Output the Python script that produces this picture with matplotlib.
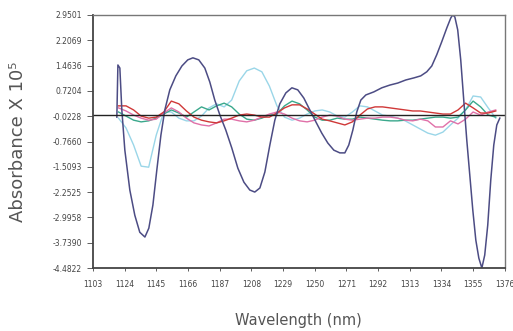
import matplotlib
matplotlib.use("Agg")
import matplotlib.pyplot as plt
import numpy as np

# ---------------- data ----------------
main_nm = [1118.9, 1119.6, 1120.9, 1122.2, 1124.2, 1127.5, 1130.8, 1134.1, 1137.5, 1140.1,
           1142.8, 1145.4, 1148.1, 1150.7, 1154.0, 1158.0, 1162.0, 1165.9, 1169.3, 1173.2,
           1177.2, 1180.5, 1183.8, 1187.2, 1191.1, 1195.1, 1199.1, 1203.1, 1207.0, 1210.3,
           1213.7, 1217.0, 1220.3, 1223.6, 1226.9, 1230.9, 1234.9, 1238.8, 1242.8, 1246.8,
           1250.8, 1254.7, 1258.7, 1262.7, 1266.7, 1270.0, 1272.6, 1275.3, 1277.9, 1280.6,
           1283.9, 1289.2, 1294.5, 1299.8, 1305.1, 1310.4, 1315.7, 1320.3, 1324.3, 1327.6,
           1330.9, 1334.2, 1337.6, 1340.2, 1341.5, 1342.9, 1344.8, 1346.8, 1348.8, 1350.8,
           1352.8, 1354.8, 1356.8, 1358.8, 1360.8, 1362.7, 1364.7, 1366.7, 1368.7, 1370.7,
           1372.7]
main_abs = [-0.05, 1.48, 1.39, 0.16, -1.02, -2.19, -2.93, -3.43, -3.57, -3.31,
            -2.63, -1.60, -0.58, 0.16, 0.75, 1.16, 1.45, 1.63, 1.69, 1.63,
            1.39, 0.98, 0.45, 0.01, -0.43, -0.96, -1.55, -1.96, -2.19, -2.25,
            -2.13, -1.66, -0.87, -0.14, 0.34, 0.66, 0.81, 0.75, 0.51, 0.16,
            -0.19, -0.52, -0.81, -1.02, -1.10, -1.10, -0.87, -0.43, 0.10, 0.45,
            0.60, 0.69, 0.81, 0.89, 0.95, 1.04, 1.10, 1.16, 1.28, 1.45,
            1.78, 2.16, 2.57, 2.86, 2.95, 2.89, 2.51, 1.63, 0.45, -0.72,
            -1.75, -2.78, -3.66, -4.19, -4.48, -4.10, -3.22, -1.90, -0.87, -0.28,
            -0.08]

grid_nm = [1120, 1125, 1130, 1135, 1140, 1145, 1150, 1155, 1160, 1165,
           1170, 1175, 1180, 1185, 1190, 1195, 1200, 1205, 1210, 1215,
           1220, 1225, 1230, 1235, 1240, 1245, 1250, 1255, 1260, 1265,
           1270, 1275, 1280, 1285, 1290, 1295, 1300, 1305, 1310, 1315,
           1320, 1325, 1330, 1335, 1340, 1345, 1350, 1355, 1360, 1365,
           1370]

cyan_abs = [-0.08, -0.37, -0.87, -1.49, -1.52, -0.58, 0.10, 0.10, -0.08, -0.16,
            -0.16, -0.02, 0.22, 0.34, 0.25, 0.45, 1.01, 1.31, 1.39, 1.28,
            0.86, 0.28, -0.05, -0.14, -0.08, 0.04, 0.13, 0.16, 0.10, -0.02,
            -0.05, 0.10, 0.28, 0.25, 0.13, 0.01, -0.02, -0.08, -0.16, -0.28,
            -0.40, -0.52, -0.58, -0.49, -0.28, -0.08, 0.16, 0.57, 0.54, 0.22,
            -0.08]

teal_abs = [0.10, -0.02, -0.14, -0.19, -0.16, -0.08, 0.04, 0.16, 0.07, -0.05,
            0.10, 0.25, 0.16, 0.28, 0.36, 0.25, 0.04, -0.11, -0.14, -0.08,
            0.01, 0.04, 0.28, 0.42, 0.34, 0.16, -0.05, -0.14, -0.14, -0.08,
            -0.11, -0.11, -0.05, -0.08, -0.11, -0.14, -0.16, -0.16, -0.14, -0.14,
            -0.11, -0.08, -0.05, -0.05, -0.08, -0.05, 0.16, 0.42, 0.25, 0.01,
            -0.05]

red_abs = [0.28, 0.28, 0.16, -0.02, -0.08, -0.05, 0.10, 0.42, 0.34, 0.13,
           -0.05, -0.14, -0.19, -0.22, -0.16, -0.08, 0.01, 0.04, 0.01, -0.05,
           -0.05, 0.07, 0.22, 0.31, 0.31, 0.19, 0.04, -0.11, -0.16, -0.22,
           -0.28, -0.19, 0.01, 0.19, 0.25, 0.25, 0.22, 0.19, 0.16, 0.13,
           0.13, 0.10, 0.07, 0.04, 0.04, 0.16, 0.36, 0.22, 0.07, 0.07,
           0.13]

pink_abs = [0.22, 0.13, 0.01, -0.08, -0.14, -0.11, 0.07, 0.22, 0.10, -0.08,
            -0.22, -0.28, -0.31, -0.22, -0.11, -0.11, -0.16, -0.19, -0.14, -0.05,
            0.04, 0.10, 0.04, -0.08, -0.16, -0.19, -0.14, -0.05, 0.01, -0.02,
            -0.11, -0.14, -0.11, -0.08, -0.08, -0.05, -0.05, -0.08, -0.14, -0.16,
            -0.11, -0.16, -0.34, -0.34, -0.16, -0.25, -0.11, 0.10, 0.01, 0.10,
            0.16]

x_ticks = [1103, 1124, 1145, 1166, 1187, 1208, 1229, 1250, 1271, 1292, 1313, 1334, 1355, 1376]
x_tick_labels = ["1103", "1124", "1145", "1166", "1187", "1208", "1229",
                 "1250", "1271", "1292", "1313", "1334", "1355", "1376"]
y_ticks = [2.9501, 2.2069, 1.4636, 0.7204, -0.0228, -0.7660, -1.5093,
           -2.2525, -2.9958, -3.7390, -4.4822]
y_tick_labels = ["2.9501", "2.2069", "1.4636", "0.7204", "-0.0228", "-0.7660",
                 "-1.5093", "-2.2525", "-2.9958", "-3.7390", "-4.4822"]

# ---------------- figure ----------------
fig = plt.figure(figsize=(5.13, 3.31), dpi=100)
ax = fig.add_axes([0.181, 0.190, 0.803, 0.765])

ax.plot(grid_nm, cyan_abs, color="#9ad6e8", lw=1.0)
ax.plot(grid_nm, teal_abs, color="#3aa88c", lw=1.0)
ax.plot(grid_nm, pink_abs, color="#e070a8", lw=1.0)
ax.plot(grid_nm, red_abs, color="#d03838", lw=1.0)
ax.plot(main_nm, main_abs, color="#4c4c84", lw=1.1)
ax.axhline(0, color="#222222", lw=1.0)

ax.set_xlim(1103, 1376)
ax.set_ylim(-4.4822, 2.9501)
ax.set_xticks(x_ticks)
ax.set_xticklabels(x_tick_labels)
ax.set_yticks(y_ticks)
ax.set_yticklabels(y_tick_labels)
ax.tick_params(axis="both", labelsize=5.5, colors="#444444", width=0.6)
ax.tick_params(axis="y", length=4, pad=4)
ax.tick_params(axis="x", length=2.5, pad=6)

for side in ["left", "bottom"]:
    ax.spines[side].set_color("#444444")
    ax.spines[side].set_linewidth(1.3)
for side in ["top", "right"]:
    ax.spines[side].set_color("#777777")
    ax.spines[side].set_linewidth(1.0)

ax.set_ylabel("Absorbance X 10⁵", fontsize=13, color="#555555", labelpad=18)
ax.set_xlabel("Wavelength (nm)", fontsize=10.5, color="#555555", labelpad=17)

fig.savefig("out.png", dpi=100, facecolor="white")
